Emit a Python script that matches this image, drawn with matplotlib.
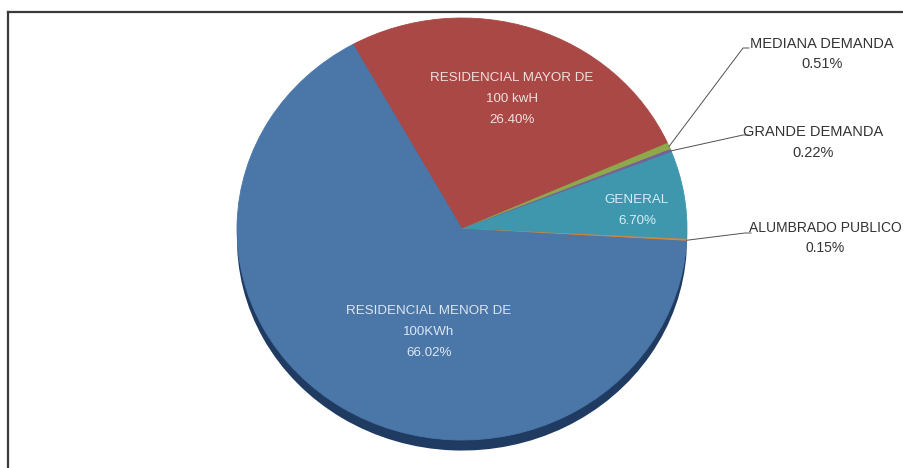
import matplotlib.pyplot as plt
import numpy as np
from matplotlib.lines import Line2D

# slices in clockwise order, starting with the red one
labels = ['RESIDENCIAL MAYOR DE\n100 kwH', 'MEDIANA DEMANDA', 'GRANDE DEMANDA',
          'GENERAL', 'ALUMBRADO PUBLICO', 'RESIDENCIAL MENOR DE\n100KWh']
values = [26.40, 0.51, 0.22, 6.70, 0.15, 66.02]
colors = ['#aa4845', '#8ea84c', '#76609c', '#3f97ae', '#d4873c', '#4a76a8']
shadow = ['#6e2a28', '#5a6c2e', '#4a3c66', '#236070', '#8a5522', '#1f3b62']

inside = [0, 3, 5]
inside_col = ['#f2dede', '#d6edf3', '#dde6f1']
inside_pos = [(512, 99), (637, 210), (429, 332)]   # pixel centres

outside = [1, 2, 4]
txt_pos = [(822, 54), (813, 142.5), (825, 238)]
line_end = [(743, 48), (743, 135), (745, 233)]
outside_fs = [10.5, 10.5, 10.0]

fig = plt.figure(figsize=(9.04, 4.68), dpi=100)
ax = fig.add_axes([0, 0, 1, 1])

# pixel geometry of the ellipse
cx, cy, rx, ry = 462, 229, 225, 211
W, H = 904, 468


def to_data(px, py):
    return (px - cx) / rx, (cy - py) / ry


ax.pie(values, colors=shadow, startangle=119, counterclock=False,
       center=(0, -0.05), wedgeprops=dict(linewidth=0), normalize=True)
wedges, _ = ax.pie(values, colors=colors, startangle=119, counterclock=False,
                   wedgeprops=dict(linewidth=0.6), normalize=True)
for w, c in zip(wedges, colors):
    w.set_edgecolor(c)

ax.set_aspect('auto')
ax.set_xlim(-cx / rx, (W - cx) / rx)
ax.set_ylim(-(H - cy) / ry, cy / ry)
ax.axis('off')

font = 'Liberation Sans'
pcts = ['%.2f%%' % v for v in values]

# labels inside slices
for i, col, (px, py) in zip(inside, inside_col, inside_pos):
    x, y = to_data(px, py)
    ax.text(x, y, labels[i] + '\n' + pcts[i], ha='center', va='center',
            fontsize=9.6, color=col, family=font, linespacing=2.0)

# outside labels with leader lines
for i, (tx, ty), (lx, ly), fs in zip(outside, txt_pos, line_end, outside_fs):
    w = wedges[i]
    mid = np.radians((w.theta1 + w.theta2) / 2)
    x0, y0 = np.cos(mid), np.sin(mid)
    x1, y1 = to_data(lx, ly)
    x2, _ = to_data(lx + 6, ly)
    ax.plot([x0, x1, x2], [y0, y1, y1], color='#505050', lw=0.7)
    x, y = to_data(tx, ty)
    ax.text(x, y, labels[i] + '\n' + pcts[i], ha='center', va='center',
            fontsize=fs, color='#333333', family=font, linespacing=1.6)

# chart frame (only top and left edges visible)
fig.add_artist(Line2D([8 / W, 8 / W], [0, 1 - 12 / H], color='#3a3a3a', lw=1.6,
                      transform=fig.transFigure))
fig.add_artist(Line2D([8 / W, 1], [1 - 12 / H, 1 - 12 / H], color='#3a3a3a', lw=1.6,
                      transform=fig.transFigure))

fig.savefig('out.png', dpi=100)
